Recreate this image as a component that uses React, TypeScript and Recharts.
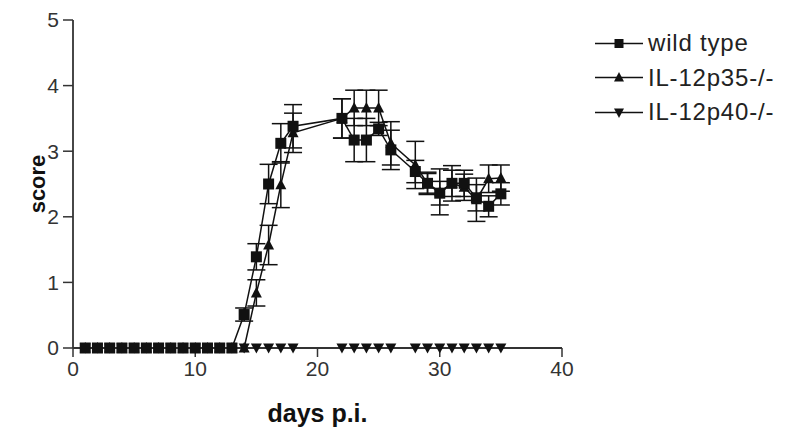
import React from "react";
import { LineChart, Line, XAxis, YAxis, ErrorBar, Label } from "recharts";

const days = [1, 2, 3, 4, 5, 6, 7, 8, 9, 10, 11, 12, 13, 14, 15, 16, 17, 18, 22, 23, 24, 25, 26, 28, 29, 30, 31, 32, 33, 34, 35];
const wildType = [0, 0, 0, 0, 0, 0, 0, 0, 0, 0, 0, 0, 0, 0.51, 1.39, 2.5, 3.12, 3.38, 3.5, 3.17, 3.17, 3.34, 3.02, 2.69, 2.51, 2.36, 2.51, 2.51, 2.29, 2.16, 2.35];
const wildTypeErr = [0, 0, 0, 0, 0, 0, 0, 0, 0, 0, 0, 0, 0, 0.1, 0.2, 0.3, 0.3, 0.33, 0.3, 0.33, 0.33, 0.1, 0.3, 0.17, 0.17, 0.18, 0.27, 0.2, 0.2, 0.16, 0.17];
const il12p35 = [0, 0, 0, 0, 0, 0, 0, 0, 0, 0, 0, 0, 0, 0, 0.84, 1.57, 2.49, 3.28, 3.5, 3.66, 3.66, 3.66, 3.12, 2.79, 2.51, 2.38, 2.51, 2.45, 2.26, 2.58, 2.59];
const il12p35Err = [0, 0, 0, 0, 0, 0, 0, 0, 0, 0, 0, 0, 0, 0, 0.2, 0.3, 0.35, 0.3, 0.3, 0.27, 0.27, 0.27, 0.33, 0.36, 0.15, 0.35, 0.2, 0.2, 0.33, 0.21, 0.2];
const il12p40 = [0, 0, 0, 0, 0, 0, 0, 0, 0, 0, 0, 0, 0, 0, 0, 0, 0, 0, 0, 0, 0, 0, 0, 0, 0, 0, 0, 0, 0, 0, 0];
const xTicks = [0, 10, 20, 30, 40];
const yTicks = [0, 1, 2, 3, 4, 5];
const seriesNames = ["wild type", "IL-12p35-/-", "IL-12p40-/-"];

const data = days.map((d, i) => ({
  day: d,
  wt: wildType[i],
  wtErr: wildTypeErr[i],
  p35: il12p35[i],
  p35Err: il12p35Err[i],
  p40: il12p40[i],
}));

const INK = "#111";
const FONT = "'Liberation Sans', Arial, Helvetica, sans-serif";

const SquareDot = (props: any) => {
  const { cx, cy, index } = props;
  if (cx == null || cy == null) return <g key={`s-${index}`} />;
  return <rect key={`s-${index}`} x={cx - 5.5} y={cy - 5.5} width={11} height={11} fill={INK} />;
};

const UpDot = (props: any) => {
  const { cx, cy, index } = props;
  if (cx == null || cy == null) return <g key={`u-${index}`} />;
  return (
    <polygon
      key={`u-${index}`}
      points={`${cx},${cy - 6} ${cx - 5.5},${cy + 4.5} ${cx + 5.5},${cy + 4.5}`}
      fill={INK}
    />
  );
};

const DownDot = (props: any) => {
  const { cx, cy, index } = props;
  if (cx == null || cy == null) return <g key={`d-${index}`} />;
  return (
    <polygon
      key={`d-${index}`}
      points={`${cx - 5.5},${cy - 4.5} ${cx + 5.5},${cy - 4.5} ${cx},${cy + 5.5}`}
      fill={INK}
    />
  );
};

const markerFor = (i: number) => {
  if (i === 0) return <rect x={19.5} y={7} width={9} height={9} fill={INK} />;
  if (i === 1) return <polygon points="24,6 19,15.5 29,15.5" fill={INK} />;
  return <polygon points="19,7.5 29,7.5 24,17" fill={INK} />;
};

function ChartLegend() {
  return (
    <div
      style={{
        position: "absolute",
        top: 26,
        left: 595,
        fontFamily: FONT,
        fontSize: 24,
        letterSpacing: 0.8,
        color: "#222",
      }}
    >
      {seriesNames.map((name, i) => (
        <div key={name} style={{ display: "flex", alignItems: "center", height: 34.5 }}>
          <svg width={48} height={23} style={{ marginRight: 5 }}>
            <line x1={0} y1={11.5} x2={48} y2={11.5} stroke={INK} strokeWidth={1.5} />
            {markerFor(i)}
          </svg>
          <span>{name}</span>
        </div>
      ))}
    </div>
  );
}

export default function App() {
  return (
    <div style={{ width: 800, height: 437, background: "#fff", position: "relative" }}>
      <style>{`body{margin:0;background:#fff}`}</style>
      <LineChart width={800} height={437} data={data} margin={{ top: 20, right: 238, left: 0, bottom: 0 }}>
        <XAxis
          dataKey="day"
          type="number"
          domain={[0, 40]}
          ticks={xTicks}
          height={89}
          stroke="#333"
          strokeWidth={1.8}
          tickSize={9}
          tickMargin={4}
          tick={{ fill: "#333", fontSize: 21, fontFamily: FONT }}
          tickLine={{ stroke: "#333", strokeWidth: 1.5 }}
        >
          <Label
            content={(p: any) => (
              <text
                x={p.viewBox.x + p.viewBox.width / 2}
                y={p.viewBox.y + 74}
                textAnchor="middle"
                fontFamily={FONT}
                fontWeight="bold"
                fontSize={25}
                fill="#111"
              >
                days p.i.
              </text>
            )}
          />
        </XAxis>
        <YAxis
          type="number"
          domain={[0, 5]}
          ticks={yTicks}
          width={73}
          stroke="#333"
          strokeWidth={1.8}
          tickSize={10}
          tickMargin={4}
          tick={{ fill: "#333", fontSize: 21, fontFamily: FONT }}
          tickLine={{ stroke: "#333", strokeWidth: 1.5 }}
        >
          <Label
            content={(p: any) => (
              <text
                x={37}
                y={p.viewBox.y + p.viewBox.height / 2}
                transform={`rotate(-90, 37, ${p.viewBox.y + p.viewBox.height / 2})`}
                textAnchor="middle"
                dominantBaseline="central"
                fontFamily={FONT}
                fontWeight="bold"
                fontSize={22}
                fill="#111"
              >
                score
              </text>
            )}
          />
        </YAxis>
        <Line
          dataKey="p40"
          stroke={INK}
          strokeWidth={1.5}
          dot={DownDot}
          activeDot={false}
          isAnimationActive={false}
        />
        <Line
          dataKey="p35"
          stroke={INK}
          strokeWidth={1.5}
          dot={UpDot}
          activeDot={false}
          isAnimationActive={false}
        >
          <ErrorBar dataKey="p35Err" direction="y" width={9} stroke={INK} strokeWidth={1.5} />
        </Line>
        <Line
          dataKey="wt"
          stroke={INK}
          strokeWidth={1.5}
          dot={SquareDot}
          activeDot={false}
          isAnimationActive={false}
        >
          <ErrorBar dataKey="wtErr" direction="y" width={9} stroke={INK} strokeWidth={1.5} />
        </Line>
      </LineChart>
      <ChartLegend />
    </div>
  );
}
